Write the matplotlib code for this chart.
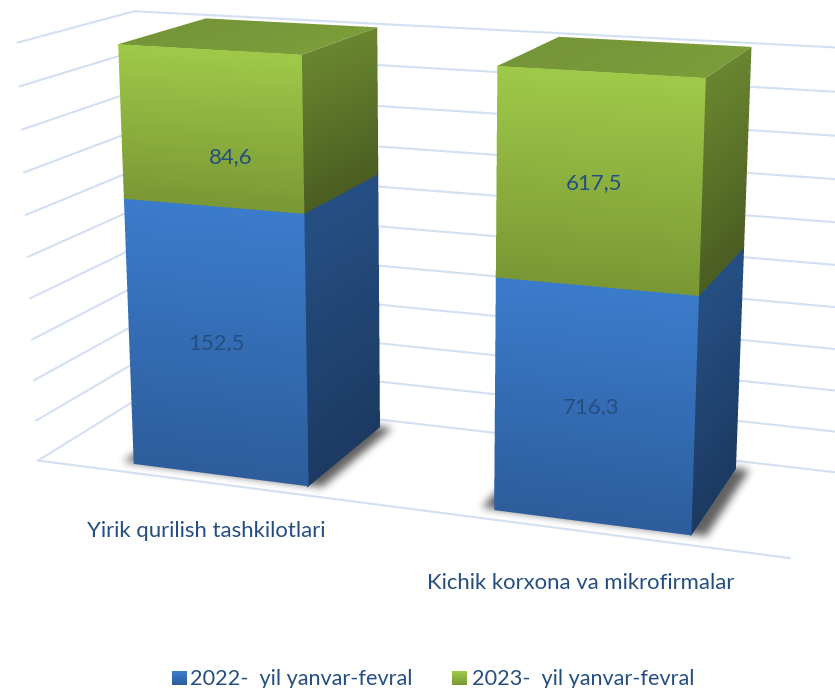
import numpy as np
import matplotlib
matplotlib.use("Agg")
import matplotlib.pyplot as plt
from matplotlib.collections import PolyCollection
from matplotlib.path import Path
from matplotlib.colors import to_rgb

# ---- data ----
categories = ["Yirik qurilish tashkilotlari", "Kichik korxona va mikrofirmalar"]
series_names = ["2022-  yil yanvar-fevral", "2023-  yil yanvar-fevral"]
series_2022 = [152.5, 716.3]
series_2023 = [84.6, 617.5]
percent_ticks = [0, 10, 20, 30, 40, 50, 60, 70, 80, 90, 100]

# ---- style / layout ----
TEXT = "#254e80"
GRID = "#d2e0f2"
W, H = 835, 688
FRONT = [("#3c7ccc", "#2d5d9c"), ("#9fca49", "#7a9835")]
SIDE = [("#265084", "#1c3a62"), ("#6a8630", "#4b5d22")]
TOPC = ("#75953a", "#7b9d39")
label_xy = [[(216, 343), (591, 407)], [(231, 157), (594, 183)]]
cat_xy = [(206, 531), (581, 583)]

# Camera calibration: picture positions of the plot box and bar corners.
frame_anchors = [((0, 0, 0), (38, 461)), ((0, 0, 1), (17, 43)),
                 ((0, 1, 0), (147, 392)), ((0, 1, 1), (135, 11)),
                 ((2, 0, 0), (790, 558))]
bar_px = [
    {"fbl": (134.5, 464), "fbr": (308.5, 486), "bbr": (380, 428),
     "ftl": (118.5, 44), "ftr": (302, 54.5), "btl": (206, 18), "btr": (377, 27.5)},
    {"fbl": (494, 510), "fbr": (691, 535), "bbr": (736, 469),
     "ftl": (497, 66), "ftr": (706, 78), "btl": (558, 37), "btr": (752, 47)},
]


def anchors_for(w, y0):
    pts = list(frame_anchors)
    for c, px in zip((0.5, 1.5), bar_px):
        xl, xr = c - w / 2, c + w / 2
        y1 = 1 - y0
        pts += [((xl, y0, 0), px["fbl"]), ((xr, y0, 0), px["fbr"]), ((xr, y1, 0), px["bbr"]),
                ((xl, y0, 1), px["ftl"]), ((xr, y0, 1), px["ftr"]),
                ((xl, y1, 1), px["btl"]), ((xr, y1, 1), px["btr"])]
    return pts


def fit(pts, iters=1):
    Xw = np.array([p[0] for p in pts], float)
    xp = np.array([p[1] for p in pts], float)
    wt = np.ones(len(pts))
    for _ in range(iters):
        A = []
        for (X, Y, Z), (u, v), k in zip(Xw, xp, wt):
            h = [X, Y, Z, 1]
            A.append(np.r_[h, [0] * 4, [-u * a for a in h]] / k)
            A.append(np.r_[[0] * 4, h, [-v * a for a in h]] / k)
        P = np.linalg.svd(np.array(A))[2][-1].reshape(3, 4)
        wt = P[2] @ np.c_[Xw, np.ones(len(Xw))].T
    pr = (P @ np.c_[Xw, np.ones(len(Xw))].T)
    err = np.sum((pr[:2] / pr[2] - xp.T) ** 2)
    return P, err


def fit_norm(pts, iters=1):
    # pixel coordinates are normalised so the linear fit is well conditioned
    q = [((a[0] - 1, a[1] - .5, a[2] - .5), ((b[0] - 417) / 400, (b[1] - 344) / 400)) for a, b in pts]
    P, err = fit(q, iters)
    T = np.array([[400, 0, 417], [0, 400, 344], [0, 0, 1.0]])
    S = np.array([[1, 0, 0, -1], [0, 1, 0, -.5], [0, 0, 1, -.5], [0, 0, 0, 1.0]])
    return T @ P @ S, err


best = None
for w_ in np.linspace(0.3, 0.8, 21):
    for y_ in np.linspace(0.02, 0.3, 15):
        P_, e_ = fit_norm(anchors_for(w_, y_))
        if best is None or e_ < best[0]:
            best = (e_, w_, y_)
BAR_W, BAR_Y0 = best[1], best[2]
CAM, _ = fit_norm(anchors_for(BAR_W, BAR_Y0), iters=4)


def project(X, Y, Z):
    h = CAM @ np.array([X, Y, Z, np.ones_like(X)], float)
    return h[0] / h[2], h[1] / h[2]


def lerp(a, b, t):
    a, b = np.array(to_rgb(a)), np.array(to_rgb(b))
    t = np.asarray(t)[..., None]
    return a + (b - a) * t


def face(ax, c00, c10, c01, col, z=3, grow=(0, 0, 0, 0), ss=4):
    """Antialiased shaded planar quad; col(u, v) gives colours.
    grow = extra overlap at u=0, u=1, v=0, v=1 (as a fraction of the side)."""
    c00, c10, c01 = (np.array(c, float) for c in (c00, c10, c01))
    a, b = c10 - c00, c01 - c00
    Hm = np.c_[CAM[:, :3] @ a, CAM[:, :3] @ b, CAM[:, :3] @ c00 + CAM[:, 3]]
    Hi = np.linalg.inv(Hm)
    cc = np.array([c00, c00 + a, c00 + b, c00 + a + b]).T
    px, py = project(cc[0], cc[1], cc[2])
    x0, x1 = int(np.floor(px.min())) - 2, int(np.ceil(px.max())) + 2
    y0, y1 = int(np.floor(py.min())) - 2, int(np.ceil(py.max())) + 2
    gx, gy = np.meshgrid(x0 + (np.arange((x1 - x0) * ss) + .5) / ss,
                         y0 + (np.arange((y1 - y0) * ss) + .5) / ss)
    d = Hi[2, 0] * gx + Hi[2, 1] * gy + Hi[2, 2]
    u = (Hi[0, 0] * gx + Hi[0, 1] * gy + Hi[0, 2]) / d
    v = (Hi[1, 0] * gx + Hi[1, 1] * gy + Hi[1, 2]) / d
    inside = (u >= -grow[0]) & (u <= 1 + grow[1]) & (v >= -grow[2]) & (v <= 1 + grow[3])
    rgb = col(np.clip(u, 0, 1), np.clip(v, 0, 1))
    rgba = np.dstack([rgb * inside[..., None], inside.astype(float)])
    hh, ww = inside.shape
    rgba = rgba.reshape(hh // ss, ss, ww // ss, ss, 4).mean(axis=(1, 3))
    al = rgba[..., 3:]
    rgba[..., :3] = np.where(al > 0, rgba[..., :3] / np.maximum(al, 1e-6), 0)
    ax.imshow(np.clip(rgba, 0, 1), extent=(x0, x1, y1, y0), aspect="auto", zorder=z, interpolation="nearest")


def shadow(ax, xl, xr, yf, yb):
    dx, dy = 0.035, 0.045
    wx = np.array([xl - dx, xr + dx, xr + dx, xl - dx])
    wy = np.array([yf + dy * .25, yf + dy * .25, yb + dy * .2, yb + dy * .2])
    px, py = project(wx, wy, np.zeros(4))
    pad = 24
    x0, x1 = int(px.min()) - pad, int(px.max()) + pad
    y0, y1 = int(py.min()) - pad, min(int(py.max()) + pad, H)
    gx, gy = np.meshgrid(np.arange(x0, x1) + .5, np.arange(y0, y1) + .5)
    mask = Path(np.c_[px, py]).contains_points(np.c_[gx.ravel(), gy.ravel()]).reshape(gx.shape).astype(float)
    k = np.ones(7) / 7
    for _ in range(4):
        mask = np.apply_along_axis(lambda r: np.convolve(r, k, "same"), 0, mask)
        mask = np.apply_along_axis(lambda r: np.convolve(r, k, "same"), 1, mask)
    rgba = np.zeros(mask.shape + (4,))
    rgba[..., 3] = mask * 0.62
    ax.imshow(rgba, extent=(x0, x1, y1, y0), aspect="auto", zorder=2, interpolation="bilinear")


fig = plt.figure(figsize=(W / 100, H / 100), dpi=100)
ax = fig.add_axes([0, 0, 1, 1])
ax.set_axis_off()

# plot box: gridlines on the side wall and back wall, front edge of the floor
for tick in percent_ticks:
    z = tick / 100
    xs, ys = project(np.array([0., 0., 2.]), np.array([0., 1., 1.]), np.array([z, z, z]))
    ax.plot(xs, ys, color=GRID, lw=1.5, zorder=1, solid_joinstyle="miter")
xs, ys = project(np.array([0., 2.]), np.array([0., 0.]), np.array([0., 0.]))
ax.plot(xs, ys, color=GRID, lw=1.5, zorder=1)

# 100 % stacked bars
totals = np.array(series_2022) + np.array(series_2023)
y0, y1 = BAR_Y0, 1 - BAR_Y0
for i, total in enumerate(totals):
    xl, xr = i + .5 - BAR_W / 2, i + .5 + BAR_W / 2
    shadow(ax, xl, xr, y0, y1)
    base = 0.0
    for s, vals in enumerate((series_2022, series_2023)):
        top = base + vals[i] / total
        ft, fb = FRONT[s]
        st, sb = SIDE[s]
        over = 0.004 if s == 0 else 0
        face(ax, (xr, y0, base), (xr, y1, base), (xr, y0, top),
             lambda u, v, a=sb, b=st: lerp(a, b, v), z=3, grow=(0.02, 0, 0, over))
        face(ax, (xl, y0, base), (xr, y0, base), (xl, y0, top),
             lambda u, v, a=fb, b=ft: lerp(a, b, v), z=5, grow=(0, 0, 0, over))
        base = top
    face(ax, (xl, y0, 1), (xr, y0, 1), (xl, y1, 1),
         lambda u, v: lerp(TOPC[0], TOPC[1], u), z=4, grow=(0, 0, 0.01, 0))

# data labels
for s, vals in enumerate((series_2022, series_2023)):
    for i, v in enumerate(vals):
        ax.text(*label_xy[s][i], f"{v:.1f}".replace(".", ","), ha="center", va="center",
                fontsize=15.9, family="Lato", color=TEXT, zorder=6)

# category labels
for name, xy in zip(categories, cat_xy):
    ax.text(*xy, name, ha="center", va="center", fontsize=15.9, family="Lato", color=TEXT, zorder=6)

# legend
for name, fr, sx, tx in zip(series_names, FRONT, (172, 452), (190, 472)):
    n = 14
    polys = [[(sx, 671 + j), (sx + 15, 671 + j), (sx + 15, 672 + j), (sx, 672 + j)] for j in range(n)]
    cols = [lerp(fr[0], fr[1], j / (n - 1)) for j in range(n)]
    ax.add_collection(PolyCollection(polys, facecolors=cols, edgecolors="none", antialiaseds=False, zorder=6))
    ax.text(tx, 685, name, ha="left", va="baseline", fontsize=15.6, family="Lato", color=TEXT, zorder=6)

ax.set_xlim(0, W)
ax.set_ylim(H, 0)
fig.savefig("out.png", dpi=100, facecolor="white")
